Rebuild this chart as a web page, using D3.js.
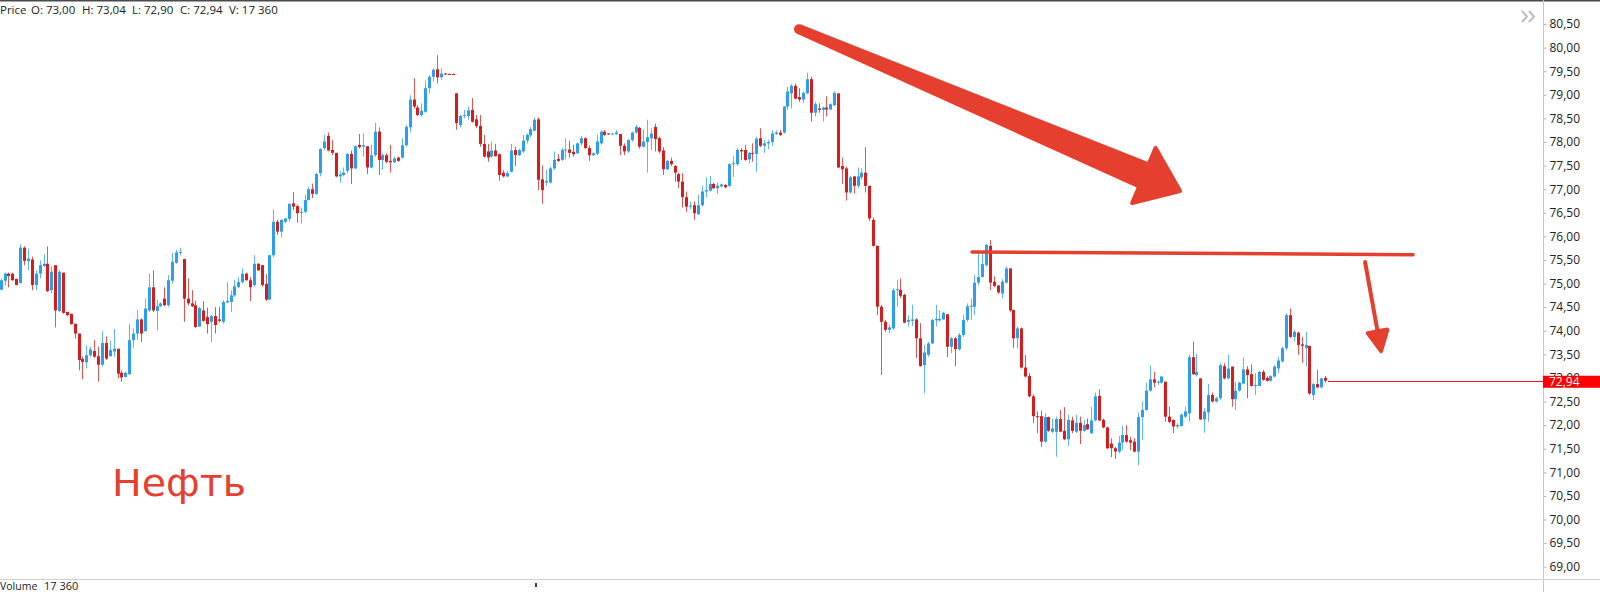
<!DOCTYPE html>
<html><head><meta charset="utf-8">
<script src="https://cdn.jsdelivr.net/npm/d3@7"></script>
<style>
html,body{margin:0;padding:0;background:#fff;overflow:hidden}
svg{display:block}
</style></head><body>
<svg id="chart" width="1600" height="592"></svg>
<script>
// ---------- DATA ----------
const opens=[74.87,75.06,75.21,75.21,75.10,75.01,75.76,75.48,75.51,74.97,
75.21,75.37,75.42,74.86,75.39,74.42,75.23,74.40,74.36,74.15,
73.94,73.40,73.33,73.48,73.57,73.46,73.28,73.74,73.46,73.56,
73.62,73.11,73.02,73.08,73.80,73.94,74.24,73.99,74.43,74.92,
74.42,74.52,74.68,74.54,75.06,75.44,75.66,75.52,74.68,74.58,
74.54,74.09,74.43,74.29,74.19,74.31,74.24,74.19,74.60,74.61,
74.75,74.93,75.03,75.21,75.07,74.97,75.42,75.39,74.99,74.66,
75.60,76.31,76.10,76.31,76.37,76.70,76.64,76.50,76.52,76.77,
77.00,76.90,77.34,77.87,78.13,77.83,77.77,77.27,77.30,77.39,
77.75,77.44,77.94,77.90,77.91,77.46,77.72,78.22,77.62,77.72,
77.60,77.57,77.67,77.67,77.93,78.31,78.90,78.73,78.57,78.64,
79.14,79.38,79.54,79.37,79.45,79.44,79.44,79.03,78.36,78.55,
78.55,78.68,78.48,78.34,77.96,77.80,77.69,77.82,77.74,77.35,
77.27,77.37,77.83,77.72,77.80,78.03,78.14,78.24,78.48,77.21,
77.14,77.14,77.44,77.64,77.62,77.82,77.84,77.79,77.76,77.97,
78.08,77.87,77.72,77.75,77.97,78.22,78.18,78.16,78.17,78.17,
77.92,77.80,78.04,78.20,78.30,77.90,78.00,78.08,78.32,78.08,
77.82,77.42,77.60,77.49,77.32,77.16,76.83,76.63,76.66,76.47,
76.66,76.95,76.97,77.11,77.02,77.06,77.09,77.07,77.53,77.53,
77.83,77.83,77.63,77.77,77.75,78.08,77.92,77.97,78.00,78.17,
78.20,78.20,78.75,79.03,79.19,78.95,78.90,79.03,79.33,78.62,
78.71,78.68,78.73,78.69,78.78,79.03,77.49,77.44,76.93,77.27,
77.07,77.25,77.35,77.07,76.35,75.80,74.51,74.19,74.02,74.05,
74.86,74.87,74.76,74.19,74.21,74.24,73.84,73.27,73.49,73.73,
74.22,74.22,74.24,74.35,73.66,73.84,73.61,73.91,74.23,74.51,
74.51,75.02,75.14,75.39,75.80,75.04,74.96,74.79,75.02,75.32,
74.44,73.84,74.05,73.22,73.04,72.61,72.19,72.19,71.65,72.17,
71.86,71.86,72.13,71.88,71.70,72.10,71.86,72.05,71.88,72.02,
71.83,72.10,72.62,72.11,71.95,71.61,71.51,71.44,71.63,71.79,
71.68,71.65,71.44,72.17,72.32,72.73,72.97,72.90,72.90,72.92,
72.18,72.11,71.97,71.98,72.18,72.25,73.44,73.06,72.99,72.12,
72.27,72.64,72.50,72.57,73.25,72.99,73.24,72.55,72.73,72.88,
73.18,73.08,72.83,72.83,73.13,73.00,72.94,73.03,73.20,73.35,
73.63,74.33,73.87,73.96,73.71,73.63,73.68,72.64,72.87,72.80,
73.00];
const highs=[75.10,75.23,75.23,75.23,75.10,75.83,75.79,75.74,75.57,75.28,
75.49,75.62,75.79,75.37,75.39,75.28,75.23,74.40,74.36,74.15,
73.94,73.45,73.69,73.66,73.80,73.66,73.99,73.88,73.79,74.04,
73.62,73.16,73.13,74.15,74.05,74.44,74.26,74.68,75.21,75.28,
74.65,74.60,74.92,75.18,75.65,75.71,75.76,75.52,75.11,74.86,
74.63,74.51,74.63,74.49,74.33,74.50,74.50,74.65,75.03,74.86,
75.07,75.14,75.32,75.23,75.14,75.60,75.43,75.39,75.20,75.60,
76.57,76.35,76.36,76.39,76.70,76.94,76.67,76.60,76.88,77.05,
77.12,77.34,77.87,78.15,78.20,78.04,77.77,77.39,77.46,77.76,
77.82,77.93,78.17,78.18,77.91,77.94,78.40,78.31,77.76,77.76,
77.94,77.69,77.69,78.08,78.36,78.99,79.35,78.78,78.82,79.30,
79.42,79.56,79.84,79.56,79.46,79.45,79.45,79.04,78.57,78.68,
78.75,78.93,78.57,78.57,78.15,77.96,78.01,77.96,77.76,77.40,
77.39,77.96,77.90,77.86,78.15,78.18,78.32,78.52,78.52,77.50,
77.41,77.48,77.80,77.74,77.87,78.08,78.03,77.94,77.99,78.13,
78.10,77.92,77.78,78.15,78.25,78.25,78.19,78.19,78.25,78.17,
77.97,78.06,78.22,78.36,78.32,78.27,78.47,78.29,78.39,78.11,
77.89,77.62,77.67,77.51,77.35,77.34,76.95,76.74,76.74,76.88,
77.07,77.25,77.28,77.14,77.14,77.12,77.11,77.55,77.70,77.87,
77.87,77.94,77.79,77.97,78.11,78.29,78.04,78.04,78.25,78.24,
78.25,78.76,79.17,79.23,79.24,79.14,79.07,79.47,79.38,78.85,
78.82,78.75,78.97,78.82,79.07,79.03,77.67,77.48,77.28,77.28,
77.46,77.44,77.89,77.07,76.40,75.80,74.55,74.23,74.12,74.90,
75.08,75.11,74.78,74.33,74.55,74.26,74.16,73.70,73.77,74.26,
74.55,74.44,74.40,74.35,73.87,73.87,73.95,74.33,74.58,74.68,
75.18,75.68,75.68,75.84,75.92,75.15,74.97,75.09,75.36,75.32,
74.45,74.09,74.07,73.49,73.10,72.65,72.29,72.31,72.25,72.18,
72.14,72.18,72.32,72.38,72.22,72.18,72.22,72.18,72.11,72.14,
72.39,72.69,72.76,72.14,71.97,71.72,71.54,71.77,71.98,72.00,
71.75,71.72,72.27,72.50,72.90,73.27,73.13,72.95,73.04,72.92,
72.39,72.12,72.04,72.25,72.39,73.49,73.77,73.51,72.99,72.36,
72.87,72.69,72.60,73.31,73.31,73.49,73.24,72.92,72.92,73.43,
73.25,73.29,73.10,73.15,73.17,73.03,73.06,73.27,73.45,73.66,
74.37,74.47,74.02,73.98,73.87,73.98,73.68,72.89,73.17,73.01,
73.04];
const lows=[74.86,74.96,74.92,75.06,74.96,75.00,75.39,75.28,74.86,74.86,
75.11,75.35,74.82,74.79,74.07,74.40,74.36,74.31,74.13,73.83,
73.16,72.97,73.20,73.45,73.43,72.92,73.24,73.38,73.45,73.45,
72.99,72.92,73.01,73.06,73.64,73.80,73.76,73.98,74.40,74.40,
74.01,74.50,74.52,74.51,75.00,75.42,75.60,74.19,74.54,74.50,
74.06,74.08,74.19,73.94,73.76,73.94,74.18,74.15,74.58,74.40,
74.72,74.90,75.00,75.06,74.63,74.93,75.27,74.93,74.63,74.65,
75.55,76.03,75.98,76.28,76.31,76.56,76.29,76.27,76.49,76.76,
76.81,76.88,77.27,77.83,77.80,77.72,77.25,77.14,77.27,77.34,
77.11,77.42,77.86,77.69,77.32,77.44,77.69,77.30,77.41,77.55,
77.35,77.55,77.58,77.65,77.90,78.20,78.71,78.55,78.54,78.62,
79.03,79.28,79.24,79.31,79.42,79.42,79.42,78.26,78.31,78.50,
78.47,78.41,78.29,77.90,77.67,77.58,77.67,77.69,77.18,77.25,
77.25,77.35,77.49,77.70,77.77,77.97,78.10,78.22,76.98,76.69,
77.07,77.12,77.41,77.58,77.60,77.63,77.67,77.69,77.75,77.92,
77.85,77.60,77.70,77.72,77.94,78.13,78.15,78.15,78.15,77.72,
77.72,77.77,78.01,78.17,77.86,77.88,77.35,77.83,77.80,77.76,
77.30,77.41,77.49,77.16,77.02,76.61,76.52,76.57,76.35,76.45,
76.63,76.83,76.95,77.00,76.90,77.04,77.02,77.05,77.26,77.49,
77.62,77.60,77.55,77.58,77.37,77.89,77.77,77.85,77.92,78.15,
78.13,78.18,78.68,78.71,78.90,78.85,78.83,79.02,78.43,78.54,
78.62,78.43,78.54,78.68,78.76,77.44,77.11,76.76,76.91,76.91,
77.02,77.20,76.93,76.33,75.78,74.33,73.06,73.98,73.95,74.02,
74.51,74.69,74.16,74.09,74.10,73.42,73.24,72.67,73.45,73.72,
74.09,74.19,74.23,73.44,73.53,73.25,73.58,73.87,74.19,74.23,
74.33,74.97,75.13,75.36,74.86,74.92,74.78,74.69,75.00,74.40,
73.63,73.63,73.20,73.01,72.59,72.04,71.83,71.54,71.63,71.86,
71.83,71.33,71.85,71.68,71.56,71.83,71.83,71.60,71.86,71.90,
71.81,72.08,72.08,71.93,71.49,71.32,71.28,71.40,71.47,71.63,
71.47,71.42,71.15,71.68,72.31,72.71,72.80,72.85,72.88,72.07,
72.04,71.83,71.93,71.97,72.15,72.07,73.06,73.03,72.11,71.84,
72.07,72.48,72.48,72.53,72.97,72.97,72.39,72.32,72.71,72.87,
72.57,72.82,72.64,72.82,72.94,72.92,72.92,73.01,73.10,73.33,
73.59,73.85,73.77,73.49,73.32,73.24,72.64,72.53,72.78,72.78,
72.90];
const closes=[75.07,75.21,75.16,75.07,74.97,75.76,75.48,75.53,74.97,75.21,
75.39,75.42,74.84,75.25,74.43,75.25,74.38,74.33,74.14,73.94,
73.38,73.34,73.48,73.60,73.45,73.28,73.74,73.41,73.59,73.62,
73.09,73.01,73.11,73.80,73.94,74.24,73.94,74.47,74.92,74.43,
74.52,74.58,74.54,75.07,75.46,75.66,75.67,74.68,74.58,74.52,
74.08,74.48,74.21,74.14,74.31,74.12,74.21,74.61,74.63,74.75,
74.94,75.03,75.21,75.07,74.92,75.42,75.28,74.97,74.66,75.60,
76.31,76.10,76.35,76.38,76.69,76.63,76.49,76.52,76.77,77.00,
76.90,77.32,77.85,78.01,77.82,77.77,77.27,77.31,77.35,77.75,
77.44,77.91,77.89,77.93,77.46,77.72,78.22,77.62,77.72,77.58,
77.57,77.65,77.60,77.93,78.32,78.90,78.75,78.57,78.66,79.14,
79.38,79.53,79.37,79.45,79.43,79.43,79.43,78.40,78.55,78.57,
78.67,78.43,78.34,77.96,77.69,77.67,77.82,77.70,77.30,77.27,
77.34,77.82,77.72,77.83,78.03,78.15,78.27,78.47,77.20,76.98,
77.17,77.44,77.62,77.60,77.83,77.84,77.77,77.74,77.97,78.08,
77.87,77.72,77.76,78.01,78.22,78.15,78.16,78.18,78.20,77.92,
77.80,78.04,78.20,78.32,77.90,78.01,78.10,78.18,78.06,77.80,
77.42,77.60,77.53,77.35,77.16,76.83,76.63,76.65,76.49,76.66,
76.95,76.98,77.11,77.02,77.07,77.10,77.04,77.53,77.55,77.83,
77.80,77.62,77.77,77.75,78.07,77.92,77.97,78.00,78.18,78.20,
78.15,78.75,79.07,79.19,78.92,78.90,79.04,79.33,78.62,78.80,
78.68,78.73,78.69,78.80,79.04,77.46,77.42,76.93,77.25,77.07,
77.27,77.35,77.07,76.38,75.80,74.51,74.19,74.02,74.07,74.86,
74.88,74.74,74.17,74.23,74.24,73.84,73.25,73.54,73.73,74.23,
74.25,74.25,74.38,73.66,73.84,73.61,73.91,74.23,74.52,74.53,
75.02,75.14,75.41,75.82,75.02,74.95,74.81,75.04,75.32,74.43,
73.84,74.05,73.22,73.03,72.61,72.19,72.17,71.65,72.17,71.88,
71.93,72.13,71.86,71.70,72.11,71.88,72.05,71.88,72.00,71.91,
72.10,72.61,72.10,71.95,71.51,71.51,71.44,71.63,71.79,71.65,
71.63,71.44,72.17,72.32,72.73,72.97,72.90,72.92,73.03,72.18,
72.07,71.97,72.00,72.22,72.29,73.44,73.08,73.13,72.12,72.29,
72.64,72.50,72.57,73.27,72.99,73.20,72.55,72.73,72.90,73.18,
73.06,72.83,72.85,73.13,72.96,72.94,73.04,73.24,73.37,73.63,
74.33,73.87,73.98,73.70,73.68,73.70,72.67,72.87,72.80,72.99,
72.94];
const priceTicks=[69,69.5,70,70.5,71,71.5,72,72.5,73,73.5,74,74.5,75,75.5,76,76.5,77,77.5,78,78.5,79,79.5,80,80.5];
const headerItems=["Price","O: 73,00","H: 73,04","L: 72,90","C: 72,94","V: 17 360"];
const lastPrice=72.94;
const volumeText=["Volume","17 360"];
const titleText="Нефть";
// annotations in data coordinates (bar index, price)
const bigArrow={from:[204.96,80.39],base:[293.5,77.29],tip:[302.8,76.96]};
const levelLine={from:[249.4,75.668],to:[362.6,75.611]};
const smallArrow={from:[350.3,75.456],tip:[354.4,73.57]};

// ---------- DRAW ----------
const W=1600,H=592,axisX=1543;
const svg=d3.select("#chart");
const x=d3.scaleLinear().domain([0,closes.length-1]).range([0.7,1325]);
const y=d3.scaleLinear().domain([69,80.5]).range([566.7,24]);
const UP="#2b9ef0",DOWN="#d71c1c",ANN="#e5402f";
const fmt=v=>d3.format(".2f")(v).replace(".",",");

// candles
const data=closes.map((c,i)=>({i,o:opens[i],h:highs[i],l:lows[i],c}));
const g=svg.append("g");
const cg=g.selectAll("g.c").data(data).join("g").attr("class","c");
cg.append("line")
  .attr("x1",d=>Math.round(x(d.i))+0.5).attr("x2",d=>Math.round(x(d.i))+0.5)
  .attr("y1",d=>y(d.h)).attr("y2",d=>y(d.l))
  .attr("stroke",d=>d.c>=d.o?UP:DOWN).attr("stroke-width",1).attr("stroke-opacity",0.75);
cg.append("rect")
  .attr("x",d=>Math.round(x(d.i))-1).attr("width",3)
  .attr("y",d=>y(Math.max(d.o,d.c)))
  .attr("height",d=>Math.max(1,Math.abs(y(d.o)-y(d.c))))
  .attr("fill",d=>d.c>=d.o?UP:DOWN);

// top border
svg.append("rect").attr("x",0).attr("y",0).attr("width",W).attr("height",1.5).attr("fill","#4a4a4a");

// header
const hx=[0,31,82,132,180,229];
svg.append("g").selectAll("text").data(headerItems).join("text")
  .attr("x",(d,i)=>hx[i]).attr("y",13.5)
  .attr("font-family","'Open Sans', sans-serif").attr("font-size",11.5).attr("fill","#222")
  .text(d=>d);

// chevrons
[1522,1529].forEach(cx=>{
  svg.append("path").attr("d",`M${cx},11 L${cx+5},16.5 L${cx},22`)
    .attr("fill","none").attr("stroke","#bdbdbd").attr("stroke-width",2);
});

// right axis
svg.append("line").attr("x1",axisX+0.5).attr("x2",axisX+0.5).attr("y1",0).attr("y2",H)
  .attr("stroke","#c8c8c8");
svg.append("line").attr("x1",0).attr("x2",W).attr("y1",579.5).attr("y2",579.5)
  .attr("stroke","#cfcfcf");
const ax=svg.append("g").attr("transform",`translate(${axisX+0.5},0)`)
  .call(d3.axisRight(y).tickValues(priceTicks).tickFormat(fmt).tickSize(3).tickPadding(3));
ax.select(".domain").remove();
ax.selectAll(".tick line").attr("stroke","#b5b5b5");
ax.selectAll(".tick text").attr("font-family","'Open Sans', sans-serif").attr("font-size",12).attr("fill","#222");

// last price line + label
const ly=y(lastPrice);
svg.append("line").attr("x1",x(closes.length-1)+3).attr("x2",axisX).attr("y1",Math.round(ly)+0.5).attr("y2",Math.round(ly)+0.5)
  .attr("stroke","#ff1010").attr("stroke-width",1);
svg.append("rect").attr("x",axisX).attr("y",ly-5).attr("width",W-axisX).attr("height",12).attr("fill","#ff0000");
svg.append("text").attr("x",axisX+6).attr("y",ly+1).attr("dy","0.35em")
  .attr("font-family","'Open Sans', sans-serif").attr("font-size",12).attr("fill","#fff").text(fmt(lastPrice));

// volume text (cut off at bottom edge as in the reference)
svg.append("text").attr("x",0).attr("y",590).attr("font-family","'Open Sans', sans-serif").attr("font-size",10.5).attr("fill","#222").text(volumeText[0]);
svg.append("text").attr("x",44).attr("y",590).attr("font-family","'Open Sans', sans-serif").attr("font-size",11).attr("fill","#222").text(volumeText[1]);
svg.append("rect").attr("x",535).attr("y",583).attr("width",2).attr("height",4).attr("fill","#444");

// annotations
const P=p=>[x(p[0]),y(p[1])];
function arrow(a,w0,w1,hw){
  const s=P(a.from),t=P(a.tip);
  const b=a.base?P(a.base):null;
  let dx=t[0]-s[0],dy=t[1]-s[1];const L=Math.hypot(dx,dy);dx/=L;dy/=L;
  const nx=-dy,ny=dx;
  const base=b||[t[0]-dx*20,t[1]-dy*20];
  const ag=svg.append("g");
  ag.append("path").attr("d",
    `M${s[0]+nx*w0},${s[1]+ny*w0} L${base[0]+nx*w1},${base[1]+ny*w1} L${base[0]-nx*w1},${base[1]-ny*w1} L${s[0]-nx*w0},${s[1]-ny*w0} Z`)
    .attr("fill",ANN);
  ag.append("circle").attr("cx",s[0]).attr("cy",s[1]).attr("r",w0).attr("fill",ANN);
  ag.append("path").attr("d",
    `M${base[0]+nx*hw},${base[1]+ny*hw} L${t[0]},${t[1]} L${base[0]-nx*hw},${base[1]-ny*hw} Z`)
    .attr("fill",ANN).attr("stroke",ANN).attr("stroke-width",4).attr("stroke-linejoin","round");
}
arrow(bigArrow,5,14,30);
svg.append("line").attr("x1",P(levelLine.from)[0]).attr("y1",P(levelLine.from)[1])
  .attr("x2",P(levelLine.to)[0]).attr("y2",P(levelLine.to)[1])
  .attr("stroke",ANN).attr("stroke-width",3.5).attr("stroke-linecap","round");
arrow(smallArrow,2,2,10);

svg.append("text").attr("x",112).attr("y",496)
  .attr("font-family","'DejaVu Sans', sans-serif").attr("font-size",38).attr("fill",ANN)
  .attr("textLength",134).attr("lengthAdjust","spacingAndGlyphs").text(titleText);
</script>
</body></html>
